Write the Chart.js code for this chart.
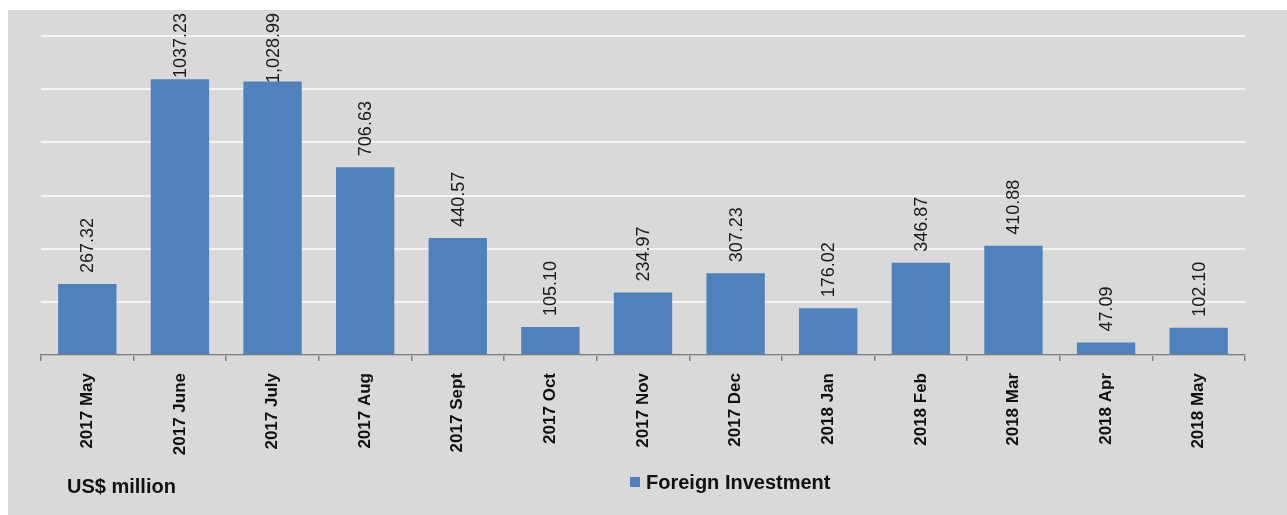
<!DOCTYPE html>
<html>
<head>
<meta charset="utf-8">
<script src="https://cdn.jsdelivr.net/npm/chart.js@4/dist/chart.umd.min.js"></script>
<style>
  html, body { margin: 0; padding: 0; background: #ffffff; width: 1287px; height: 515px; overflow: hidden; }
  #panel { position: absolute; left: 8px; top: 10px; width: 1279px; height: 505px; background: #d9d9d9; }
  #wrap { position: absolute; left: 0; top: 0; width: 1279px; height: 505px; }
  .txt { position: absolute; font-family: 'Liberation Sans', Arial, sans-serif; font-weight: bold; font-size: 20px; color: #111; white-space: nowrap; line-height: 20px; }
  #unit { left: 59px; top: 466px; }
  #legend { left: 622px; top: 462px; }
  #legend span.box { display: inline-block; width: 10px; height: 10px; background: #4f81bd; margin-right: 6px; vertical-align: 2px; }
</style>
</head>
<body>
<div id="panel">
  <div id="wrap"><canvas id="c" width="1279" height="505"></canvas></div>
  <div class="txt" id="unit">US$ million</div>
  <div class="txt" id="legend"><span class="box"></span>Foreign Investment</div>
</div>
<script>
const categories = ["2017 May", "2017 June", "2017 July", "2017 Aug", "2017 Sept", "2017 Oct", "2017 Nov", "2017 Dec", "2018 Jan", "2018 Feb", "2018 Mar", "2018 Apr", "2018 May"];
const foreignInvestment = [267.32, 1037.23, 1028.99, 706.63, 440.57, 105.10, 234.97, 307.23, 176.02, 346.87, 410.88, 47.09, 102.10];
const valueLabels = ["267.32", "1037.23", "1,028.99", "706.63", "440.57", "105.10", "234.97", "307.23", "176.02", "346.87", "410.88", "47.09", "102.10"];
const seriesName = "Foreign Investment";
const yMin = 0, yMax = 1200, yStep = 200;

const barLabelPlugin = {
  id: 'barLabels',
  afterDatasetsDraw(chart) {
    const ctx = chart.ctx;
    const meta = chart.getDatasetMeta(0);
    ctx.save();
    ctx.font = '18px "Liberation Sans", Arial, sans-serif';
    ctx.fillStyle = '#1a1a1a';
    ctx.textAlign = 'left';
    ctx.textBaseline = 'middle';
    meta.data.forEach((bar, i) => {
      const txt = valueLabels[i];
      const w = ctx.measureText(txt).width;
      let bottom = bar.y - 11;
      const minBottom = 3 + w;
      if (bottom < minBottom) bottom = minBottom;
      ctx.save();
      ctx.translate(bar.x + 1, bottom);
      ctx.rotate(-Math.PI / 2);
      ctx.fillText(txt, 0, 0);
      ctx.restore();
    });
    ctx.restore();
  }
};

new Chart(document.getElementById('c'), {
  type: 'bar',
  data: {
    labels: categories,
    datasets: [{
      label: seriesName,
      data: foreignInvestment,
      backgroundColor: '#4f81bd',
      borderWidth: 0,
      barPercentage: 0.63,
      categoryPercentage: 1.0
    }]
  },
  options: {
    responsive: false,
    animation: false,
    devicePixelRatio: 1,
    layout: { padding: { left: 33, right: 42, top: 26, bottom: 20 } },
    plugins: {
      legend: { display: false },
      tooltip: { enabled: false }
    },
    scales: {
      x: {
        afterFit(scale) { scale.height = 140; },
        border: { display: true, color: '#7f7f7f', width: 1.5 },
        grid: { offset: true, drawOnChartArea: false, drawTicks: true, tickLength: 6, color: '#7f7f7f', lineWidth: 1.5 },
        ticks: {
          autoSkip: false,
          minRotation: 90,
          maxRotation: 90,
          padding: 12,
          color: '#111',
          font: { family: '"Liberation Sans", Arial, sans-serif', size: 17, weight: 'bold' }
        }
      },
      y: {
        min: yMin,
        max: yMax,
        border: { display: false },
        grid: { color: '#f4f4f4', lineWidth: 2, drawTicks: false },
        ticks: { display: false, stepSize: yStep }
      }
    }
  },
  plugins: [barLabelPlugin]
});
</script>
</body>
</html>
